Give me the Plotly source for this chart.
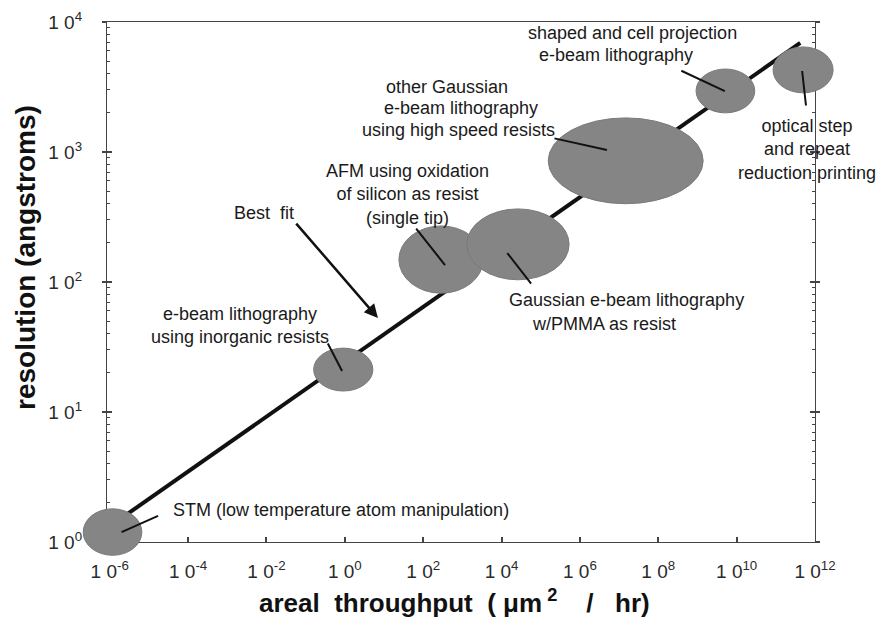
import numpy as np
import plotly.graph_objects as go

# ---------------- data ----------------
technologies = [
    "STM (low temperature atom manipulation)",
    "e-beam lithography using inorganic resists",
    "AFM using oxidation of silicon as resist (single tip)",
    "Gaussian e-beam lithography w/PMMA as resist",
    "other Gaussian e-beam lithography using high speed resists",
    "shaped and cell projection e-beam lithography",
    "optical step and repeat reduction printing",
]
throughput_low = [2.1e-7, 0.16, 24, 1.3e3, 1.55e5, 9.2e8, 8.5e10]        # um^2/hr
throughput_high = [6.6e-6, 5.2, 3.4e3, 5.3e5, 1.4e9, 2.9e10, 2.9e12]
resolution_low = [0.79, 14.5, 82, 104, 400, 2000, 2850]                  # angstroms
resolution_high = [1.8, 31, 270, 365, 1830, 4350, 6430]

fit_throughput = [1e-6, 4.2e11]
fit_resolution = [1.32, 6900]

x_tickvals = [1e-6, 1e-4, 1e-2, 1e0, 1e2, 1e4, 1e6, 1e8, 1e10, 1e12]
x_ticktext = ["1 0<sup>-6</sup>", "1 0<sup>-4</sup>", "1 0<sup>-2</sup>", "1 0<sup>0</sup>",
              "1 0<sup>2</sup>", "1 0<sup>4</sup>", "1 0<sup>6</sup>", "1 0<sup>8</sup>",
              "1 0<sup>10</sup>", "1 0<sup>12</sup>"]
y_tickvals = [1, 10, 100, 1000, 10000]
y_ticktext = ["1 0<sup>0</sup>", "1 0<sup>1</sup>", "1 0<sup>2</sup>", "1 0<sup>3</sup>", "1 0<sup>4</sup>"]

# ---------------- layout geometry ----------------
OFF = 8                      # page body margin of the html page
W, H = 888 - OFF, 632 - OFF
ML, MR, MT, MB = 0, 0, 0, 0
PL, PR, PT, PB = 107, 815, 22, 542   # plot box in window pixels
pw, ph = W - ML - MR, H - MT - MB


def px_x(p):
    return (p - OFF - ML) / pw


def px_y(p):
    return (H - MB - (p - OFF)) / ph


xr = [-6.07, 12.0]
yr = [0.0, 4.0]
kx = (PR - PL) / (xr[1] - xr[0])
ky = (PB - PT) / (yr[1] - yr[0])
x2r = [xr[0] - (PL - OFF - ML) / kx, xr[1] + (W - MR - (PR - OFF)) / kx]
y2r = [yr[0] - (H - MB - (PB - OFF)) / ky, yr[1] + ((PT - OFF) - MT) / ky]

FONT = "Liberation Sans, Arial, Helvetica, sans-serif"
INK = "#1a1a1a"
AX = "#444444"
NB = "\u00a0"

fig = go.Figure()
fig.add_trace(go.Scatter(x=fit_throughput, y=fit_resolution, mode="lines",
                         line=dict(color="#111111", width=4), hoverinfo="skip",
                         showlegend=False, xaxis="x", yaxis="y"))
fig.add_trace(go.Scatter(x=[1], y=[1], mode="markers", marker=dict(opacity=0),
                         hoverinfo="skip", showlegend=False, xaxis="x2", yaxis="y2"))
fig.add_trace(go.Scatter(x=[1], y=[1], mode="markers", marker=dict(opacity=0),
                         hoverinfo="skip", showlegend=False, xaxis="x", yaxis="y3"))

shapes = []
for lo, hi, rlo, rhi in zip(throughput_low, throughput_high, resolution_low, resolution_high):
    shapes.append(dict(type="circle", xref="x2", yref="y2", x0=lo, x1=hi, y0=rlo, y1=rhi,
                       fillcolor="#858585", line=dict(color="#7a7a7a", width=1), layer="above"))

minor_vals = [k * 10 ** d for d in range(4) for k in range(2, 10)]

# callouts: (pointer throughput, pointer resolution, tail dx px, tail dy px)
callouts = [
    (2.0e-6, 1.19, 38, -17),
    (0.85, 20.7, -15, -29),
    (360, 135, -30, -38),
    (1.4e4, 167, 25, 32),
    (4.9e6, 1035, -54, -12),
    (5.0e9, 2944, -45, -21),
    (4.7e11, 4198, 4, 36),
]
annotations = []
for tx, ty, dx, dy in callouts:
    annotations.append(dict(x=np.log10(tx), y=np.log10(ty), xref="x", yref="y",
                            ax=dx, ay=dy, axref="pixel", ayref="pixel", text="",
                            showarrow=True, arrowhead=0, arrowwidth=2, arrowcolor="#111111"))
# best fit arrow
annotations.append(dict(x=np.log10(7.0), y=np.log10(52.8), xref="x", yref="y",
                        ax=-83, ay=-96, axref="pixel", ayref="pixel", text="",
                        showarrow=True, arrowhead=2, arrowsize=1.1, arrowwidth=2.5,
                        arrowcolor="#111111"))

labels = [
    ("STM (low temperature atom manipulation)", 171, 510, "left"),
    ("e-beam lithography<br>using inorganic resists", 240, 325, "center"),
    ("Best" + NB + NB + "fit", 264, 213, "center"),
    ("AFM using oxidation<br>of silicon as resist<br>(single tip)", 407, 194, "center"),
    ("Gaussian e-beam lithography", 507, 300, "left"),
    ("w/PMMA as resist", 530, 324, "left"),
    ("other Gaussian", 447, 87, "center"),
    ("e-beam lithography", 461, 108, "center"),
    ("using high speed resists", 458, 130, "center"),
    ("shaped and cell projection", 632, 33, "center"),
    ("e-beam lithography", 616, 55, "center"),
    ("optical step<br>and repeat<br>reduction printing", 807, 150, "center"),
]
for text, x, y, anc in labels:
    annotations.append(dict(x=px_x(x), y=px_y(y), xref="paper", yref="paper", text=text,
                            showarrow=False, xanchor=anc, yanchor="middle", align="center",
                            font=dict(family=FONT, size=18, color=INK)))

xtitle = ("<b>areal" + NB * 2 + "throughput" + NB * 2 + "(" + NB + "\u03bcm<sup>" + NB + "2</sup>"
          + NB * 4 + "/" + NB * 3 + "hr)</b>")
annotations.append(dict(x=px_x(454), y=px_y(601), xref="paper", yref="paper",
                        text=xtitle,
                        showarrow=False, xanchor="center", yanchor="middle",
                        font=dict(family=FONT, size=26, color="#111111")))
annotations.append(dict(x=px_x(25), y=px_y(258), xref="paper", yref="paper",
                        text="<b>resolution (angstroms)</b>", textangle=-90,
                        showarrow=False, xanchor="center", yanchor="middle",
                        font=dict(family=FONT, size=28, color="#111111")))

fig.update_layout(
    width=W, height=H,
    margin=dict(l=ML, r=MR, t=MT, b=MB, autoexpand=False),
    paper_bgcolor="white", plot_bgcolor="rgba(0,0,0,0)",
    showlegend=False,
    shapes=shapes, annotations=annotations,
    xaxis=dict(type="log", range=xr, domain=[px_x(PL), px_x(PR)], anchor="y",
               showline=True, linecolor=AX, linewidth=1.2, mirror=True,
               ticks="inside", ticklen=5, tickwidth=1.5, tickcolor=AX,
               tickmode="array", tickvals=x_tickvals, ticktext=x_ticktext,
               tickfont=dict(family=FONT, size=19, color="#2a2a2a"),
               ticklabelstandoff=12, showgrid=False, zeroline=False),
    yaxis=dict(type="log", range=yr, domain=[px_y(PB), px_y(PT)], anchor="x",
               showline=True, linecolor=AX, linewidth=1.2, mirror="ticks",
               ticks="inside", ticklen=5, tickwidth=1.5, tickcolor=AX,
               tickmode="array", tickvals=y_tickvals, ticktext=y_ticktext,
               tickfont=dict(family=FONT, size=19, color="#2a2a2a"),
               ticklabelstandoff=20, showgrid=False, zeroline=False,
               minor=dict(tickmode="array", tickvals=minor_vals, ticks="inside",
                          ticklen=3, tickwidth=1.2, tickcolor=AX, showgrid=False)),
    yaxis3=dict(type="log", range=yr, overlaying="y", anchor="x", side="left",
                showline=False, mirror="ticks", ticks="outside", ticklen=4, tickwidth=1.5,
                tickcolor=AX, tickmode="array", tickvals=y_tickvals,
                showticklabels=False, showgrid=False, zeroline=False),
    xaxis2=dict(type="log", range=x2r, domain=[0, 1], anchor="y2", visible=False),
    yaxis2=dict(type="log", range=y2r, domain=[0, 1], anchor="x2", visible=False),
)

fig.write_html("out.html")
